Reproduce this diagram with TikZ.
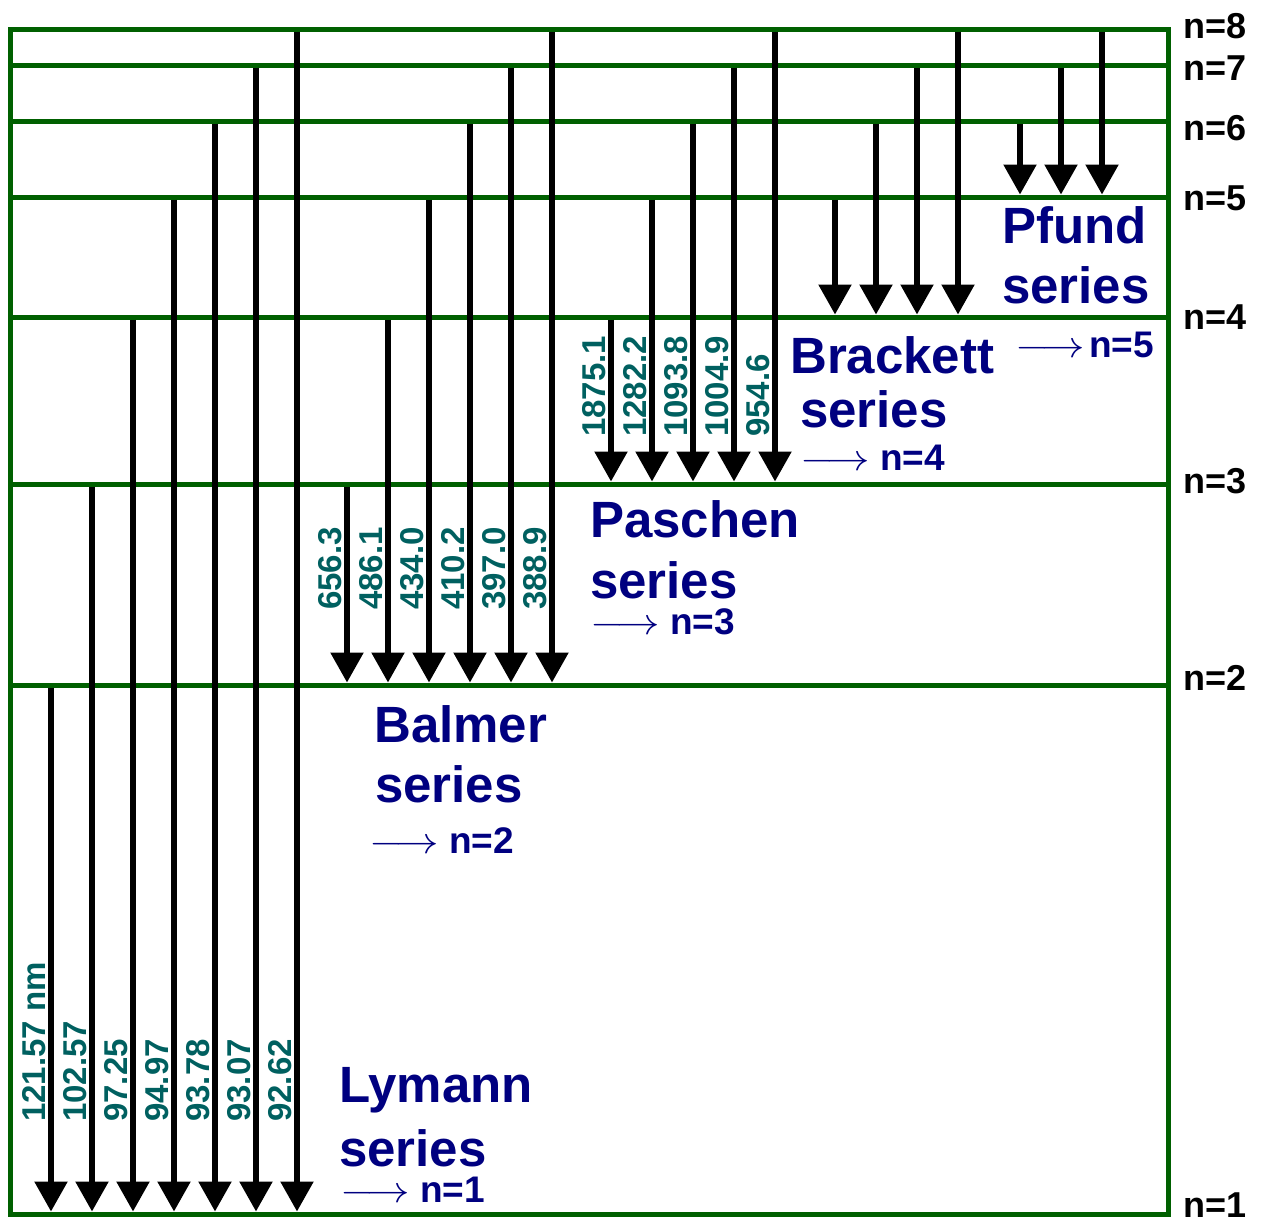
\documentclass[tikz,border=0pt]{standalone}
\usepackage{graphicx}
\usepackage{fontspec}
\setmainfont{Liberation Sans}
\usetikzlibrary{arrows.meta}

\definecolor{shellgreen}{RGB}{0,96,0}
\definecolor{wavecol}{RGB}{0,96,96}
\definecolor{serblue}{RGB}{0,0,128}

\newcommand{\goesto}{\scalebox{1.75}[1.5]{$\longrightarrow$}}

\tikzset{
  shell/.style={draw=shellgreen, line width=5pt},
  trans/.style={line width=5.5pt, shorten <=2.5pt, shorten >=2.5pt,
    -{Triangle[length=30pt,width=32pt]}},
  wave/.style={rotate=90, anchor=base west, inner sep=0pt, text=wavecol,
    font=\fontsize{33}{33}\selectfont\bfseries},
  series/.style={anchor=base west, inner sep=0pt, text=serblue,
    font=\fontsize{51}{51}\selectfont\bfseries},
  goes/.style={anchor=base west, inner sep=0pt, text=serblue,
    font=\fontsize{37}{37}\selectfont\bfseries},
  lvllabel/.style={anchor=base west, inner sep=0pt,
    font=\fontsize{36}{36}\selectfont\bfseries}
}

\begin{document}
\begin{tikzpicture}[x=1pt,y=-1pt]
\useasboundingbox (0,0) rectangle (1263,1224);

% Niveaus
\coordinate (L1) at (0,1214);
\coordinate (L2) at (0,685);
\coordinate (L3) at (0,484);
\coordinate (L4) at (0,317);
\coordinate (L5) at (0,197);
\coordinate (L6) at (0,121);
\coordinate (L7) at (0,65);
\coordinate (L8) at (0,29);

\draw[shell] (10,29) rectangle (1168,1214);
\foreach \n in {2,...,7}
  \draw[shell] (10,0 |- L\n) -- (1168,0 |- L\n);

\foreach \n/\b in {8/38,7/80,6/140,5/210,4/329,3/493,2/690,1/1217}
  \node[lvllabel] (n\n) at (1183,\b) {n=\n};

% Lyman
\foreach \w [count=\i] in {121.57 nm,102.57,97.25,94.97,93.78,93.07,92.62}{
  \pgfmathsetmacro\x{10+41*\i}
  \pgfmathtruncatemacro\u{\i+1}
  \draw[trans] (\x,0 |- L\u) -- (\x,0 |- L1);
  \node[wave] (ly\i) at (\x-6,1122) {\w};
}
\node[series] (lyA) at (339,1102) {Lymann};
\node[series] (lyB) at (339,1166) {series};
\node[goes] (lyC) at (340,1202) {\goesto\hspace{10pt}n=1};

% Balmer
\foreach \w [count=\i] in {656.3,486.1,434.0,410.2,397.0,388.9}{
  \pgfmathsetmacro\x{306+41*\i}
  \pgfmathtruncatemacro\u{\i+2}
  \draw[trans] (\x,0 |- L\u) -- (\x,0 |- L2);
  \node[wave] (ba\i) at (\x-6,610) {\w};
}
\node[series] (baA) at (374,742) {Balmer};
\node[series] (baB) at (375,802) {series};
\node[goes] (baC) at (369,853) {\goesto\hspace{10pt}n=2};

% Paschen
\foreach \w [count=\i] in {1875.1,1282.2,1093.8,1004.9,954.6}{
  \pgfmathsetmacro\x{570+41*\i}
  \pgfmathtruncatemacro\u{\i+3}
  \draw[trans] (\x,0 |- L\u) -- (\x,0 |- L3);
  \node[wave] (pa\i) at (\x-6,437) {\w};
}
\node[series] (paA) at (590,537) {Paschen};
\node[series] (paB) at (590,598) {series};
\node[goes] (paC) at (590,634) {\goesto\hspace{10pt}n=3};

% Brackett
\foreach \i in {1,...,4}{
  \pgfmathsetmacro\x{794+41*\i}
  \pgfmathtruncatemacro\u{\i+4}
  \draw[trans] (\x,0 |- L\u) -- (\x,0 |- L4);
}
\node[series] (brA) at (790,373) {Brackett};
\node[series] (brB) at (800,427) {series};
\node[goes] (brC) at (800,470) {\goesto\hspace{10pt}n=4};

% Pfund
\foreach \i in {1,2,3}{
  \pgfmathsetmacro\x{979+41*\i}
  \pgfmathtruncatemacro\u{\i+5}
  \draw[trans] (\x,0 |- L\u) -- (\x,0 |- L5);
}
\node[series] (pfA) at (1002,243) {Pfund};
\node[series] (pfB) at (1002,303) {series};
\node[goes] (pfC) at (1015,357) {\goesto\hspace{4pt}n=5};

\end{tikzpicture}
\end{document}
